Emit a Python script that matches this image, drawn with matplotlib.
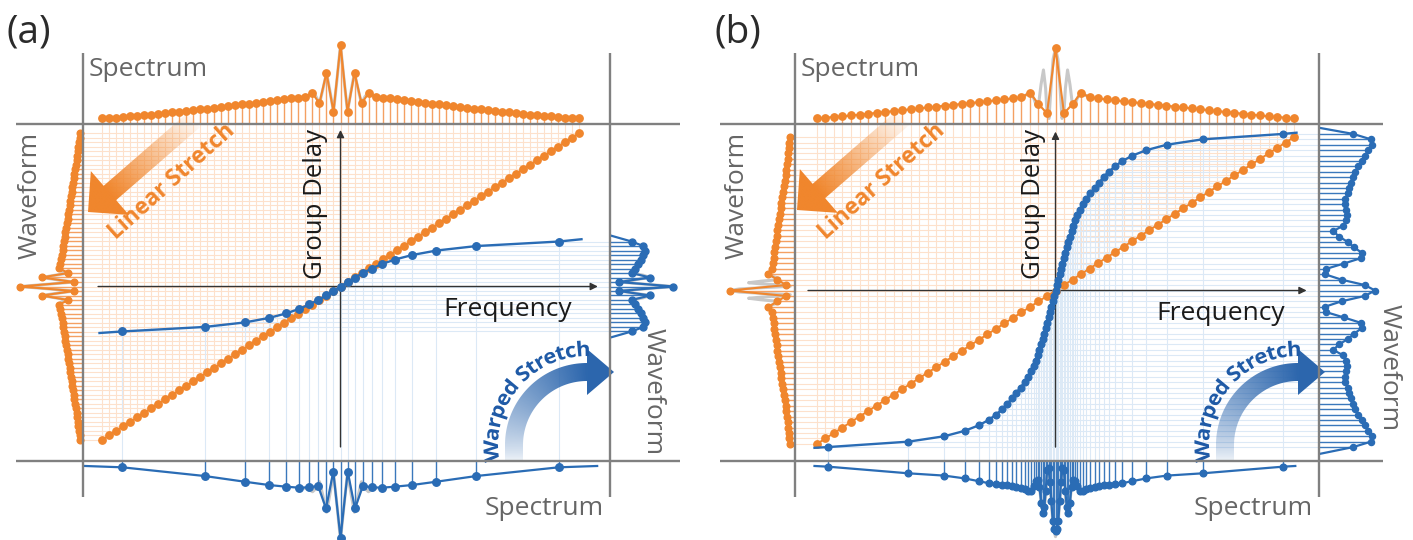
import numpy as np
import matplotlib
matplotlib.use('Agg')
import matplotlib.pyplot as plt
from matplotlib.colors import to_rgb
from matplotlib.patches import Polygon, PathPatch
from matplotlib.path import Path
from matplotlib.textpath import TextPath
from matplotlib.font_manager import FontProperties

plt.rcParams['font.family'] = ['Open Sans', 'DejaVu Sans']

W, H = 1413, 540
SX, SY = 241.0, 155.0   # pixels per unit of frequency / group delay
AMP = 0.79              # pixels per amplitude unit (peak = 100)
TOP = 20                # top edge of the spectrum strips

ORANGE = '#f0862d'
ORANGE_STEM = '#f4a062'
ORANGE_GRID = '#fde1cc'
BLUE = '#2a6cb5'
BLUE_STEM = '#3a78bc'
BLUE_GRID = '#dce9f6'
GRAY = '#c8c8c8'
FRAME = '#808080'
AXIS = '#333333'
LABEL = '#666666'

# ---------------- panel (a): linear vs. mild warp ----------------
a_lin_freq = np.linspace(-0.99, 0.99, 69)
a_lin_delay = np.linspace(-0.99, 0.99, 69)
a_lin_spec = [7.2, 7.7, 8.2, 8.9, 9.5, 10.3, 11.0, 11.8, 12.7, 13.5, 14.6, 15.6, 16.6, 17.6, 18.6,
              19.6, 20.6, 21.6, 22.7, 23.5, 24.7, 25.8, 27.0, 28.1, 29.1, 30.4, 31.6, 32.7, 33.5, 34.8,
              38.9, 26.2, 64.9, 15.6, 100.0, 15.6, 64.9, 26.2, 38.9,
              34.8, 33.5, 32.7, 31.6, 30.4, 29.1, 28.1, 27.0, 25.8, 24.7, 23.5, 22.7, 21.6, 20.6, 19.6,
              18.6, 17.6, 16.6, 15.6, 14.6, 13.5, 12.7, 11.8, 11.0, 10.3, 9.5, 8.9, 8.2, 7.7, 7.2]
a_lin_wave = [3.8, 4.4, 5.1, 5.8, 6.6, 7.3, 8.1, 9.0, 9.9, 10.8, 11.6, 12.5, 13.4, 14.3, 15.2,
              16.1, 17.0, 17.8, 18.7, 19.5, 20.4, 21.3, 22.2, 23.0, 23.9, 24.8, 25.8, 26.7, 27.6, 28.9,
              30.0, 18.6, 52.3, 11.4, 79.7, 11.4, 52.3, 18.6, 30.0,
              28.9, 27.6, 26.7, 25.8, 24.8, 23.9, 23.0, 22.2, 21.3, 20.4, 19.5, 18.7, 17.8, 17.0, 16.1,
              15.2, 14.3, 13.4, 12.5, 11.6, 10.8, 9.9, 9.0, 8.1, 7.3, 6.6, 5.8, 5.1, 4.4, 3.8]
a_warp_freq = [-0.905, -0.564, -0.398, -0.297, -0.226, -0.172, -0.129, -0.093, -0.060, -0.030, 0.0,
               0.030, 0.060, 0.093, 0.129, 0.172, 0.226, 0.297, 0.398, 0.564, 0.905]
a_warp_delay = np.linspace(-0.29, 0.29, 21)
a_warp_spec = [8.0, 19.0, 26.2, 30.4, 32.5, 33.8, 33.3, 31.6, 60.1, 13.5, 97.1,
               13.5, 60.1, 31.6, 33.3, 33.8, 32.5, 30.4, 26.2, 19.0, 8.0]
a_warp_wave = [27.5, 42.2, 44.3, 42.2, 38.9, 35.4, 31.6, 27.5, 50.6, 11.8, 80.1,
               11.8, 50.6, 27.5, 31.6, 35.4, 38.9, 42.2, 44.3, 42.2, 27.5]
a_curve_ends = ([-1.0, 1.0], [-0.30, 0.305])
a_spec_ends = ([-1.06, 1.065], [6.3, 6.3])
a_wave_ends = ([-0.33, 0.33], [0.0, 0.0])
# continuous spectrum around the burst (grey trace)
a_burst_freq = [-0.145, -0.131, -0.116, -0.102, -0.087, -0.073, -0.058, -0.044, -0.029, -0.015, 0.0,
                0.015, 0.029, 0.044, 0.058, 0.073, 0.087, 0.102, 0.116, 0.131, 0.145]
a_burst_spec = [34.8, 36.0, 38.9, 35.0, 26.2, 44.0, 64.9, 42.0, 15.6, 55.0, 100.0,
                55.0, 15.6, 42.0, 64.9, 44.0, 26.2, 35.0, 38.9, 36.0, 34.8]
a_burst_wave_lin = [27.8, 28.8, 30.0, 28.0, 18.6, 35.0, 52.3, 33.6, 11.4, 44.0, 79.7,
                    44.0, 11.4, 33.6, 52.3, 35.0, 18.6, 28.0, 30.0, 28.8, 27.8]
a_burst_delay_warp = [-0.116, -0.102, -0.087, -0.073, -0.058, -0.044, -0.029, -0.015, 0.0,
                      0.015, 0.029, 0.044, 0.058, 0.073, 0.087, 0.102, 0.116]
a_burst_wave_warp = [31.6, 29.0, 27.5, 42.0, 50.6, 32.0, 11.8, 45.0, 80.1,
                     45.0, 11.8, 32.0, 50.6, 42.0, 27.5, 29.0, 31.6]

# ---------------- panel (b): linear vs. strong warp ----------------
b_lin_freq = np.linspace(-0.99, 0.99, 57)
b_lin_delay = np.linspace(-0.99, 0.99, 57)
b_lin_spec = [7.2, 8.0, 8.9, 9.7, 10.8, 11.8, 12.9, 14.1, 15.2, 16.3, 17.5, 18.6, 19.7, 20.9, 22.0,
              23.2, 24.3, 25.3, 26.5, 27.6, 28.7, 29.9, 31.1, 32.4, 33.8,
              39.6, 25.3, 13.5, 95.8, 13.5, 25.3, 39.6,
              33.8, 32.4, 31.1, 29.9, 28.7, 27.6, 26.5, 25.3, 24.3, 23.2, 22.0, 20.9, 19.7, 18.6,
              17.5, 16.3, 15.2, 14.1, 12.9, 11.8, 10.8, 9.7, 8.9, 8.0, 7.2]
b_lin_wave = [6.6, 7.1, 7.7, 8.5, 9.2, 10.1, 11.0, 12.0, 13.0, 14.1, 15.1, 16.1, 17.1, 18.1, 19.1,
              20.1, 21.1, 22.2, 23.2, 24.2, 25.2, 26.2, 27.2, 28.2, 29.2,
              33.8, 22.4, 11.4, 82.3, 11.4, 22.4, 33.8,
              29.2, 28.2, 27.2, 26.2, 25.2, 24.2, 23.2, 22.2, 21.1, 20.1, 19.1, 18.1, 17.1, 16.1,
              15.1, 14.1, 13.0, 12.0, 11.0, 10.1, 9.2, 8.5, 7.7, 7.1, 6.6]
b_warp_freq = [-0.943, -0.61, -0.4614, -0.3772, -0.3195, -0.278, -0.2469, -0.2212, -0.1992, -0.1817,
               -0.1631, -0.1452, -0.1286, -0.1145, -0.1008, -0.0905, -0.0817, -0.0739, -0.0664, -0.0593,
               -0.0527, -0.0465, -0.0407, -0.0349, -0.029, -0.0232, -0.0174, -0.0116, -0.0058, 0.0,
               0.0058, 0.0116, 0.0174, 0.0232, 0.029, 0.0349, 0.0407, 0.0465, 0.0527, 0.0593,
               0.0664, 0.0739, 0.0817, 0.0905, 0.1008, 0.1145, 0.1286, 0.1452, 0.1631, 0.1817,
               0.1992, 0.2212, 0.2469, 0.278, 0.3195, 0.3772, 0.4614, 0.61, 0.943]
b_warp_delay = np.linspace(-1.01, 1.01, 59)
b_warp_spec = [7.2, 15.6, 18.5, 22.0, 25.5, 28.0, 29.0, 30.0, 31.0, 32.0, 33.0, 34.0, 36.0, 38.0, 38.0,
               32.0, 25.0, 24.0, 33.0, 53.0, 66.0, 58.0, 38.0, 12.0, 9.0, 26.0, 50.0, 76.0, 86.0, 88.0,
               86.0, 76.0, 50.0, 26.0, 9.0, 12.0, 38.0, 58.0, 66.0, 53.0, 33.0, 24.0, 25.0, 32.0, 38.0,
               38.0, 36.0, 34.0, 33.0, 32.0, 31.0, 30.0, 29.0, 28.0, 25.5, 22.0, 18.5, 15.6, 7.2]
b_warp_wave = [43.4, 65.8, 66.7, 62.4, 58.2, 54.1, 49.7, 45.6, 43.0, 39.9, 38.0, 36.1, 33.5, 32.9, 34.2,
               35.8, 34.8, 30.4, 18.1, 25.3, 36.3, 44.3, 54.0, 53.2, 31.6, 8.9, 7.6, 28.7, 58.2, 70.9,
               58.2, 28.7, 7.6, 8.9, 31.6, 53.2, 54.0, 44.3, 36.3, 25.3, 18.1, 30.4, 34.8, 35.8, 34.2,
               32.9, 33.5, 36.1, 38.0, 39.9, 43.0, 45.6, 49.7, 54.1, 58.2, 62.4, 66.7, 65.8, 43.4]
b_curve_ends = ([-1.0, 1.0], [-1.015, 1.018])
b_spec_ends = ([-1.0, 0.995], [6.3, 6.3])
b_wave_ends = ([-1.055, 1.05], [0.0, 0.0])
b_burst_freq = [-0.141, -0.124, -0.106, -0.091, -0.079, -0.070, -0.060, -0.050, -0.041, -0.035,
                -0.027, -0.019, -0.010, 0.0, 0.010, 0.019, 0.027, 0.035, 0.041, 0.050,
                0.060, 0.070, 0.079, 0.091, 0.106, 0.124, 0.141]
b_burst_spec = [33.8, 36.5, 39.6, 33.0, 23.0, 25.3, 50.0, 68.4, 45.0, 13.5,
                7.0, 45.0, 82.0, 95.8, 82.0, 45.0, 7.0, 13.5, 45.0, 68.4,
                50.0, 25.3, 23.0, 33.0, 39.6, 36.5, 33.8]
b_burst_wave_lin = [29.0, 31.4, 34.0, 28.4, 19.8, 21.8, 43.0, 58.8, 38.7, 11.6,
                    6.0, 38.7, 70.5, 82.3, 70.5, 38.7, 6.0, 11.6, 38.7, 58.8,
                    43.0, 21.8, 19.8, 28.4, 34.0, 31.4, 29.0]

panels = [
    dict(frame=(83, 610, 124, 461), origin=(340.5, 286.5), left_edge=0, right_edge=705,
         rule_x=(16, 680), freq_axis=(-1.006, 1.068), delay_axis=(-1.035, 1.01),
         lin_freq=a_lin_freq, lin_delay=a_lin_delay, lin_spec=a_lin_spec, lin_wave=a_lin_wave,
         warp_freq=a_warp_freq, warp_delay=a_warp_delay, warp_spec=a_warp_spec, warp_wave=a_warp_wave,
         curve_ends=a_curve_ends, spec_ends=a_spec_ends, wave_ends=a_wave_ends,
         burst_freq=a_burst_freq, burst_spec=a_burst_spec, burst_wave_lin=a_burst_wave_lin,
         burst_delay_warp=a_burst_delay_warp, burst_wave_warp=a_burst_wave_warp, blue_ms=5.4,
         tag='(a)', tag_x=6, wave_l=(30, 195), wave_r=(653, 392), gd=(316, 204), fq=(508, 310),
         arrow_tip=(88, 212), bend=(587, 445), lin_text=(172, 182)),
    dict(frame=(795, 1319, 124, 461), origin=(1055.5, 290.5), left_edge=712, right_edge=1413,
         rule_x=(720, 1383), freq_axis=(-1.027, 1.042), delay_axis=(-1.01, 1.025),
         lin_freq=b_lin_freq, lin_delay=b_lin_delay, lin_spec=b_lin_spec, lin_wave=b_lin_wave,
         warp_freq=b_warp_freq, warp_delay=b_warp_delay, warp_spec=b_warp_spec, warp_wave=b_warp_wave,
         curve_ends=b_curve_ends, spec_ends=b_spec_ends, wave_ends=b_wave_ends,
         burst_freq=b_burst_freq, burst_spec=b_burst_spec, burst_wave_lin=b_burst_wave_lin,
         burst_delay_warp=None, burst_wave_warp=None, blue_ms=4.8,
         tag='(b)', tag_x=715, wave_l=(737, 195), wave_r=(1389, 368), gd=(1033, 204), fq=(1221, 313),
         arrow_tip=(797, 210), bend=(1298, 445), lin_text=(882, 182)),
]

fig = plt.figure(figsize=(W / 100, H / 100), dpi=100)


def add_box(x0, x1, y0, y1, **kw):
    ax = fig.add_axes([x0 / W, 1 - y1 / H, (x1 - x0) / W, (y1 - y0) / H], **kw)
    ax.axis('off')
    return ax


def draw_panel(p):
    x0, x1, y0, y1 = p['frame']
    cx, cy = p['origin']
    ax = add_box(x0, x1, y0, y1)
    ax.set_xlim((x0 - cx) / SX, (x1 - cx) / SX)
    ax.set_ylim((cy - y1) / SY, (cy - y0) / SY)
    fl, fr = ax.get_xlim()
    tb, tt = ax.get_ylim()

    lf, lt = p['lin_freq'], p['lin_delay']
    wf, wt = np.asarray(p['warp_freq']), p['warp_delay']

    # projection lines from each sample to the spectrum / waveform rules
    ax.vlines(lf, lt, tt, color=ORANGE_GRID, lw=0.8, zorder=1)
    ax.hlines(lt, fl, lf, color=ORANGE_GRID, lw=0.8, zorder=1)
    ax.vlines(wf, tb, wt, color=BLUE_GRID, lw=0.8, zorder=1)
    ax.hlines(wt, wf, fr, color=BLUE_GRID, lw=0.8, zorder=1)

    arrow = dict(arrowstyle='-|>', color=AXIS, lw=1.0, mutation_scale=11, shrinkA=0, shrinkB=0)
    fa, ta = p['freq_axis'], p['delay_axis']
    ax.annotate('', xy=(fa[1], 0), xytext=(fa[0], 0), arrowprops=arrow, zorder=2)
    ax.annotate('', xy=(0, ta[1]), xytext=(0, ta[0]), arrowprops=arrow, zorder=2)

    # group delay curves
    ax.plot(lf, lt, '-o', color=ORANGE, lw=1.4, ms=5.3, zorder=4)
    ef, et = p['curve_ends']
    ax.plot([ef[0], *wf, ef[1]], [et[0], *wt, et[1]], '-', color=BLUE, lw=1.7, zorder=5)
    ax.plot(wf, wt, 'o', color=BLUE, ms=p['blue_ms'], zorder=5)

    # spectrum sampled uniformly (top)
    axt = add_box(x0, x1, TOP, y0, sharex=ax)
    axt.set_ylim(0, (y0 - TOP) / AMP)
    axt.plot(p['burst_freq'], p['burst_spec'], color=GRAY, lw=2.2, zorder=1)
    axt.vlines(lf, 0, p['lin_spec'], color=ORANGE_STEM, lw=1.0, zorder=2)
    axt.plot(lf, p['lin_spec'], '-o', color=ORANGE, lw=1.5, ms=5.3, zorder=3, clip_on=False)

    # spectrum sampled on the warped grid (bottom)
    axb = add_box(x0, x1, y1, H, sharex=ax)
    axb.set_ylim((H - y1) / AMP, 0)
    axb.plot(p['burst_freq'], p['burst_spec'], color=GRAY, lw=2.2, zorder=1)
    axb.vlines(wf, 0, p['warp_spec'], color=BLUE_STEM, lw=1.0, zorder=2)
    sf, sa = p['spec_ends']
    axb.plot([sf[0], *wf, sf[1]], [sa[0], *p['warp_spec'], sa[1]], '-', color=BLUE, lw=1.6, zorder=3)
    axb.plot(wf, p['warp_spec'], 'o', color=BLUE, ms=p['blue_ms'], zorder=3, clip_on=False)

    # waveform after linear stretch (left); delay equals frequency on this map
    axl = add_box(p['left_edge'], x0, y0, y1, sharey=ax)
    axl.set_xlim((x0 - p['left_edge']) / AMP, 0)
    axl.plot(p['burst_wave_lin'], p['burst_freq'], color=GRAY, lw=2.2, zorder=1)
    axl.hlines(lt, 0, p['lin_wave'], color=ORANGE_STEM, lw=1.0, zorder=2)
    axl.plot(p['lin_wave'], lt, '-o', color=ORANGE, lw=1.5, ms=4.8, zorder=3, clip_on=False)

    # waveform after warped stretch (right)
    axr = add_box(x1, p['right_edge'], y0, y1, sharey=ax)
    axr.set_xlim(0, (p['right_edge'] - x1) / AMP)
    if p['burst_wave_warp'] is not None:
        axr.plot(p['burst_wave_warp'], p['burst_delay_warp'], color=GRAY, lw=2.2, zorder=1)
    axr.hlines(wt, 0, p['warp_wave'], color=BLUE_STEM, lw=1.0, zorder=2)
    te, ae = p['wave_ends']
    axr.plot([ae[0], *p['warp_wave'], ae[1]], [te[0], *wt, te[1]], '-', color=BLUE, lw=1.6, zorder=3)
    axr.plot(p['warp_wave'], wt, 'o', color=BLUE, ms=p['blue_ms'] - 0.4, zorder=3, clip_on=False)


for p in panels:
    draw_panel(p)

# overlay in pixel units for rules, labels and stretch arrows
deco = fig.add_axes([0, 0, 1, 1])
deco.axis('off')


def gradient_fill(verts, alpha_fn, color):
    poly = Polygon(verts, closed=True, facecolor='none', edgecolor='none')
    deco.add_patch(poly)
    xs = [v[0] for v in verts]
    ys = [v[1] for v in verts]
    xa, xb, ya, yb = min(xs) - 2, max(xs) + 2, min(ys) - 2, max(ys) + 2
    nx, ny = int((xb - xa) * 2), int((yb - ya) * 2)
    X, Y = np.meshgrid(np.linspace(xa, xb, nx), np.linspace(ya, yb, ny))
    rgba = np.zeros((ny, nx, 4))
    rgba[..., :3] = to_rgb(color)
    rgba[..., 3] = alpha_fn(X, Y)
    im = deco.imshow(rgba, extent=(xa, xb, yb, ya), origin='upper', interpolation='bilinear', zorder=2)
    im.set_clip_path(poly)


def straight_arrow(tip, angle, length=140, head=29, head_w=29, body_w=9.5):
    t = np.array(tip, float)
    d = np.array([np.cos(np.radians(angle)), -np.sin(np.radians(angle))])
    n = np.array([-d[1], d[0]])
    b = t + head * d
    e = t + length * d
    verts = [t, b + head_w * n, b + body_w * n, e + body_w * n, e - body_w * n, b - body_w * n, b - head_w * n]

    def alpha(X, Y):
        s = (X - t[0]) * d[0] + (Y - t[1]) * d[1]
        return np.clip(1 - 0.95 * (s - head) / (length - head), 0.04, 1)

    gradient_fill(verts, alpha, ORANGE)


def bent_arrow(center, ri=64, ro=82, drop=18, head_w=23, head_len=27):
    cx, cy = center
    rm = (ri + ro) / 2
    ybot = cy + drop
    th = np.linspace(np.pi, np.pi / 2, 50)
    outer = [(cx + ro * np.cos(a), cy - ro * np.sin(a)) for a in th]
    inner = [(cx + ri * np.cos(a), cy - ri * np.sin(a)) for a in th[::-1]]
    verts = ([(cx - ro, ybot)] + outer +
             [(cx, cy - rm - head_w), (cx + head_len, cy - rm), (cx, cy - rm + head_w)] +
             inner + [(cx - ri, ybot)])
    total = drop + np.pi / 2 * rm

    def alpha(X, Y):
        ang = np.arctan2(cy - Y, X - cx)
        s = np.where(Y > cy, ybot - Y, drop + (np.pi - ang) * rm)
        s = np.where(X > cx, total, s)
        return np.clip(0.04 + 0.96 * (s / total) ** 0.75, 0, 1)

    gradient_fill(verts, alpha, '#2c66ad')


def arc_text(s, center, radius, start_deg, size, color):
    fp = FontProperties(family=['Open Sans', 'DejaVu Sans'], weight='bold')
    tp = TextPath((0, 0), s, size=size, prop=fp)
    v = tp.vertices
    theta = np.radians(start_deg) - v[:, 0] / radius
    r = radius + v[:, 1]
    xy = np.column_stack([center[0] + r * np.cos(theta), center[1] - r * np.sin(theta)])
    deco.add_patch(PathPatch(Path(xy, tp.codes), facecolor=color, edgecolor='none', zorder=3))


for p in panels:
    x0, x1, y0, y1 = p['frame']
    deco.hlines([y0, y1], *p['rule_x'], color=FRAME, lw=1.7, zorder=4)
    deco.vlines([x0, x1], 53, 497, color=FRAME, lw=1.7, zorder=4)

    deco.text(p['tag_x'], 33, p['tag'], fontsize=28, ha='left', va='center', color='#2b2b2b')
    deco.text(x0 + 6, 76, 'Spectrum', fontsize=19, ha='left', va='baseline', color=LABEL)
    deco.text(x1 - 6, 515, 'Spectrum', fontsize=19, ha='right', va='baseline', color=LABEL)
    deco.text(*p['wave_l'], 'Waveform', fontsize=19, rotation=90, ha='center', va='center', color=LABEL)
    deco.text(*p['wave_r'], 'Waveform', fontsize=19, rotation=-90, ha='center', va='center', color=LABEL)
    deco.text(*p['gd'], 'Group Delay', fontsize=18.5, rotation=90, ha='center', va='center', color='#1a1a1a')
    deco.text(*p['fq'], 'Frequency', fontsize=19, ha='center', va='center', color='#1a1a1a')

    straight_arrow(p['arrow_tip'], 41)
    deco.text(*p['lin_text'], 'Linear Stretch', fontsize=16.5, weight='bold', rotation=42,
              rotation_mode='anchor', ha='center', va='center', color=ORANGE, zorder=3)
    bent_arrow(p['bend'])
    arc_text('Warped Stretch', p['bend'], 89, 190, 20.5, '#1f5aa6')

deco.set_xlim(0, W)
deco.set_ylim(H, 0)
deco.set_aspect('auto')

fig.savefig('out.png', dpi=100)
